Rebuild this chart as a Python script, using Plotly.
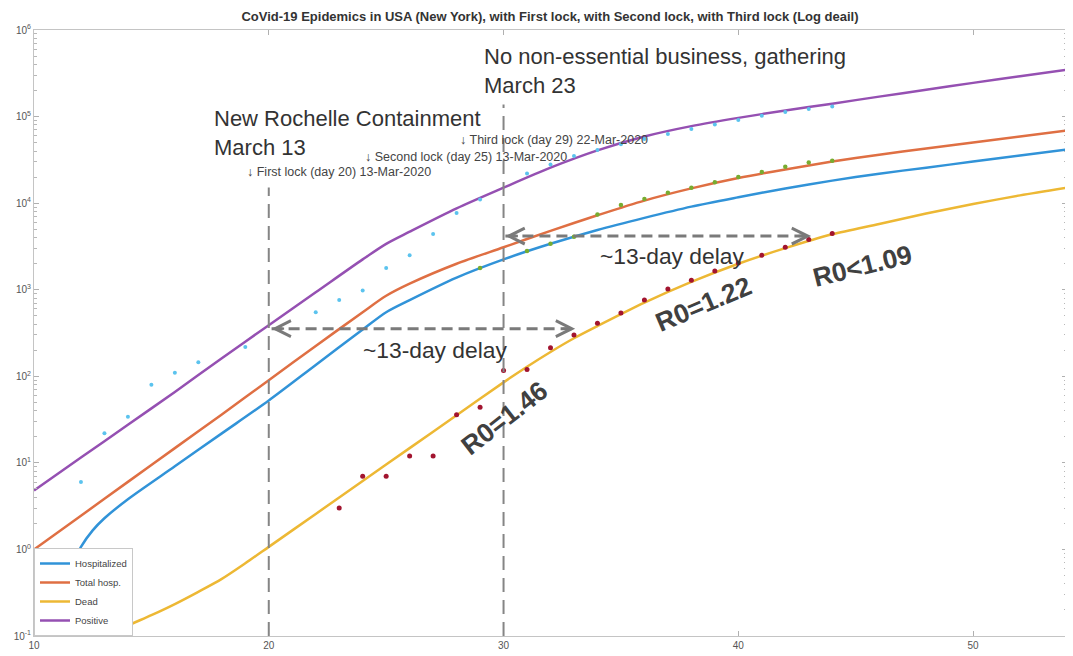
import math
import plotly.graph_objects as go

# ---------------- model curves (day, value) ----------------
pos_days = [10, 12, 14, 16, 18, 20, 22, 24, 25, 26, 28, 30, 32, 34, 36, 38, 40, 42, 44, 46, 48, 50, 52, 54]
pos_vals = [4.8, 11.5, 27.5, 66, 162, 389, 933, 2240, 3390, 4680, 8710, 15100, 25700, 40700,
            58900, 77600, 96600, 117500, 141000, 170000, 204000, 245000, 292000, 347000]

tot_days = [10, 12, 14, 16, 18, 20, 22, 24, 25, 26, 28, 30, 32, 34, 36, 38, 40, 42, 44, 46, 48, 50, 52, 54]
tot_vals = [1.0, 2.45, 6.03, 14.8, 36.3, 90.2, 224, 550, 851, 1175, 1995, 3090, 4790, 7240,
            10700, 14800, 19500, 24500, 30200, 36300, 42700, 50100, 58900, 69200]

hosp_days = [10.7, 11, 11.5, 12, 12.5, 13, 14, 16, 18, 20, 22, 24, 25, 26, 28, 30, 32, 34, 36, 38,
             40, 42, 44, 46, 48, 50, 52, 54]
hosp_vals = [0.071, 0.178, 0.562, 1.07, 1.66, 2.29, 3.80, 9.12, 21.9, 52.5, 135, 347, 550, 759,
             1380, 2240, 3390, 4900, 6760, 9120, 11700, 14800, 18200, 21900, 25700, 30200, 35500, 41700]

dead_days = [10, 12, 13, 14, 15, 16, 17, 18, 19, 20, 22, 24, 26, 28, 30, 31, 32, 33, 34, 36, 38,
             40, 42, 44, 46, 48, 50, 52, 54]
dead_vals = [0.040, 0.076, 0.098, 0.132, 0.174, 0.234, 0.324, 0.457, 0.692, 1.07, 2.57, 6.17, 14.8,
             35.5, 85.1, 129, 191, 275, 380, 708, 1230, 1995, 3020, 4365, 5750, 7590, 9770, 12300, 15100]

# ---------------- observed data (dots) ----------------
pos_obs_days = [12, 13, 14, 15, 16, 17, 19, 22, 23, 24, 25, 26, 27, 28, 29, 31, 32, 33, 34, 35,
                36, 37, 38, 39, 40, 41, 42, 43, 44]
pos_obs_vals = [6, 22, 34, 80, 110, 145, 218, 550, 760, 980, 1780, 2500, 4400, 7700, 11000, 22000,
                28000, 35000, 41000, 48000, 55000, 63000, 72000, 81000, 91000, 102000, 113000, 122000, 131000]

hosp_obs_days = [29, 31, 32, 33, 34, 35, 36, 37, 38, 39, 40, 41, 42, 43, 44]
hosp_obs_vals = [1780, 2800, 3400, 4100, 7400, 9500, 11200, 13200, 15100, 17400, 20000, 22900,
                 26300, 29500, 30900]

dead_obs_days = [23, 24, 25, 26, 27, 28, 29, 30, 31, 32, 33, 34, 35, 36, 37, 38, 39, 40, 41, 42, 43, 44]
dead_obs_vals = [3, 7, 7, 12, 12, 36, 44, 117, 120, 213, 300, 410, 540, 760, 1020, 1290, 1650,
                 2040, 2500, 3100, 3800, 4450]

# y tick labels
y_tick_vals = [0.1, 1, 10, 100, 1000, 10000, 100000, 1000000]
y_tick_text = ["10<sup>-1</sup>", "10<sup>0</sup>", "10<sup>1</sup>", "10<sup>2</sup>",
               "10<sup>3</sup>", "10<sup>4</sup>", "10<sup>5</sup>", "10<sup>6</sup>"]
x_tick_vals = [10, 20, 30, 40, 50]

# lock days (vertical markers) and delay arrows
lock_lines = [20, 30]
delay1_days = [20.12, 33.05]
delay1_val = 355
delay2_days = [30.08, 43.1]
delay2_val = 4170

FONT = "Liberation Sans, Arial, sans-serif"
C_BLUE = "#3193D8"
C_ORANGE = "#DF6F43"
C_YELLOW = "#EDB834"
C_PURPLE = "#9550B2"
GRAY = "#858585"

# the page body adds an 8 px offset; the figure is sized to fill the window exactly
W, H = 1065, 648

fig = go.Figure()

line_kw = dict(mode="lines", line_shape="spline")
fig.add_trace(go.Scatter(x=hosp_days, y=hosp_vals, name="Hospitalized",
                         line=dict(color=C_BLUE, width=2.5, smoothing=0.8), **line_kw))
fig.add_trace(go.Scatter(x=tot_days, y=tot_vals, name="Total hosp.",
                         line=dict(color=C_ORANGE, width=2.5, smoothing=0.8), **line_kw))
fig.add_trace(go.Scatter(x=dead_days, y=dead_vals, name="Dead",
                         line=dict(color=C_YELLOW, width=2.5, smoothing=0.8), **line_kw))
fig.add_trace(go.Scatter(x=pos_days, y=pos_vals, name="Positive",
                         line=dict(color=C_PURPLE, width=2.5, smoothing=0.8), **line_kw))

fig.add_trace(go.Scatter(x=pos_obs_days, y=pos_obs_vals, mode="markers", showlegend=False,
                         marker=dict(color="#5BC3EE", size=4)))
fig.add_trace(go.Scatter(x=hosp_obs_days, y=hosp_obs_vals, mode="markers", showlegend=False,
                         marker=dict(color="#77AC30", size=4.5)))
fig.add_trace(go.Scatter(x=dead_obs_days, y=dead_obs_vals, mode="markers", showlegend=False,
                         marker=dict(color="#A2142F", size=5)))

# delay arrows (dashed shafts)
for days, val in [(delay1_days, delay1_val), (delay2_days, delay2_val)]:
    fig.add_trace(go.Scatter(x=days, y=[val, val], mode="lines", showlegend=False,
                             line=dict(color="#7a7a7a", width=3, dash="11px,6px")))

annotations = []
for days, val in [(delay1_days, delay1_val), (delay2_days, delay2_val)]:
    ly = math.log10(val)
    annotations.append(dict(x=days[0], y=ly, xref="x", yref="y", text="", showarrow=True,
                            ax=14, ay=0, arrowhead=5, arrowsize=1.3, arrowwidth=2.4,
                            arrowcolor="#7a7a7a"))
    annotations.append(dict(x=days[1], y=ly, xref="x", yref="y", text="", showarrow=True,
                            ax=-14, ay=0, arrowhead=5, arrowsize=1.3, arrowwidth=2.4,
                            arrowcolor="#7a7a7a"))

shapes = [
    dict(type="line", xref="x", yref="paper", x0=lock_lines[0], x1=lock_lines[0], y0=0, y1=0.74,
         line=dict(color=GRAY, width=2, dash="14px,8px")),
    dict(type="line", xref="x", yref="paper", x0=lock_lines[1], x1=lock_lines[1], y0=0, y1=0.877,
         line=dict(color=GRAY, width=2, dash="14px,8px")),
]

def txt(text, x, val, size, color="#333333", xanchor="left", angle=0, bold=False):
    t = f"<b>{text}</b>" if bold else text
    annotations.append(dict(x=x, y=math.log10(val), xref="x", yref="y", text=t, showarrow=False,
                            xanchor=xanchor, yanchor="middle", align="left", textangle=angle,
                            font=dict(family=FONT, size=size, color=color)))

txt("New Rochelle Containment<br>March 13", 17.6, 10 ** 4.81, 22)
txt("No non-essential business, gathering<br>March 23", 29.1, 10 ** 5.53, 22)
txt("↓ First lock (day 20) 13-Mar-2020", 19.0, 10 ** 4.36, 12.5, color="#444444")
txt("↓ Second lock (day 25) 13-Mar-2020", 24.03, 10 ** 4.535, 12.5, color="#444444")
txt("↓ Third lock (day 29) 22-Mar-2020", 28.04, 10 ** 4.73, 12.5, color="#444444")
txt("~13-day delay", 27.1, 10 ** 2.30, 22.8, xanchor="center")
txt("~13-day delay", 37.16, 10 ** 3.39, 22.8, xanchor="center")
txt("R0=1.46", 30.04, 10 ** 1.517, 26.5, color="#404040", xanchor="center", angle=-38, bold=True)
txt("R0=1.22", 38.53, 10 ** 2.836, 26.5, color="#404040", xanchor="center", angle=-23, bold=True)
txt("R0<1.09", 45.31, 10 ** 3.275, 26.5, color="#404040", xanchor="center", angle=-14, bold=True)

fig.update_layout(
    width=W, height=H,
    margin=dict(l=26, r=6, t=22, b=20, autoexpand=False),
    paper_bgcolor="white", plot_bgcolor="white",
    font=dict(family=FONT, size=10, color="#555555"),
    title=dict(text="<b>CoVid-19 Epidemics in USA (New York), with First lock, with Second lock, "
                    "with Third lock (Log deail)</b>",
               x=542 / W, xref="container", xanchor="center", y=1 - 8.5 / H, yanchor="middle",
               font=dict(family=FONT, size=13, color="#333333")),
    showlegend=True,
    legend=dict(x=0.0, y=0.0, xanchor="left", yanchor="bottom", bgcolor="white",
                bordercolor="#c8c8c8", borderwidth=1, font=dict(family=FONT, size=9.5, color="#444444"),
                itemwidth=30, tracegroupgap=0),
    annotations=annotations,
    shapes=shapes,
)
fig.update_xaxes(range=[10, 54], tickvals=x_tick_vals, ticks="inside", ticklen=5,
                 tickcolor="#b0b0b0", showline=True, linecolor="#c4c4c4", linewidth=1, mirror="ticks",
                 showgrid=False, zeroline=False, automargin=False,
                 tickfont=dict(size=10, color="#555555"))
fig.update_yaxes(type="log", range=[-1, 6], tickvals=y_tick_vals, ticktext=y_tick_text,
                 ticks="inside", ticklen=5, tickcolor="#b0b0b0", showline=True, linecolor="#c4c4c4",
                 linewidth=1, mirror="ticks", showgrid=False, zeroline=False, automargin=False,
                 tickfont=dict(size=10, color="#555555"),
                 minor=dict(ticks="inside", ticklen=3, tickcolor="#b8b8b8", dtick="D1", showgrid=False))

fig.write_html("out.html")
